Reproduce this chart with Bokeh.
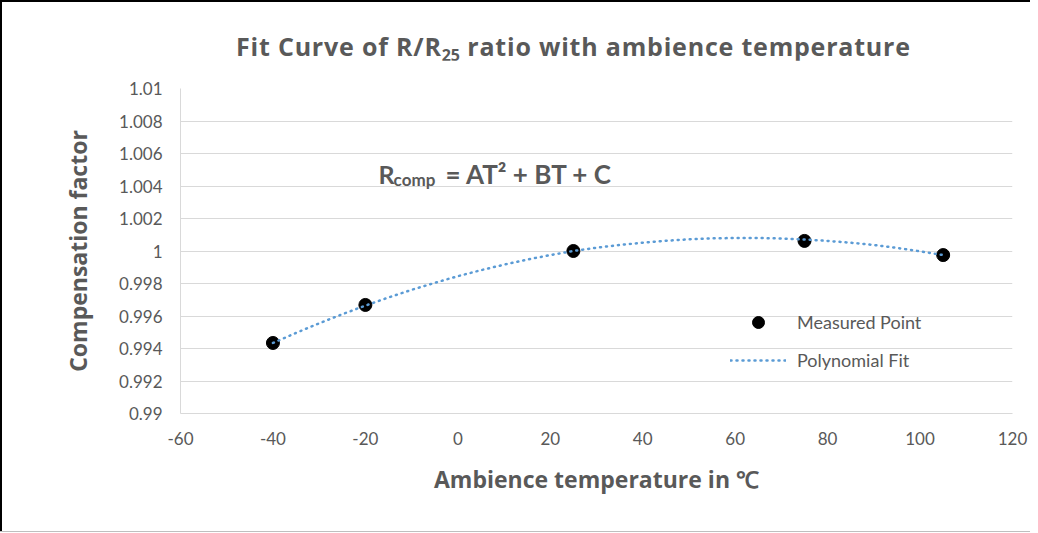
from bokeh.plotting import figure
from bokeh.models import (Label, FixedTicker, Range1d, Legend, LegendItem,
                          CustomJSTickFormatter, Div)
from bokeh.layouts import column
from bokeh.embed import file_html
from bokeh.resources import INLINE

# ---- data ----
temp_measured = [-40, -20, 25, 75, 105]
ratio_measured = [0.99434, 0.99668, 1.00000, 1.00062, 0.99975]

temp_fit = [-40, -35, -30, -25, -20, -15, -10, -5, 0, 5, 10, 15, 20, 25,
            30, 35, 40, 45, 50, 55, 60, 65, 70, 75, 80, 85, 90, 95, 100, 105]
ratio_fit = [0.99434, 0.99496, 0.99555, 0.99611, 0.99664, 0.99714, 0.99761,
             0.99804, 0.99845, 0.99882, 0.99916, 0.99947, 0.99975, 1.00000,
             1.00020, 1.00037, 1.00051, 1.00063, 1.00072, 1.00078, 1.00080,
             1.00080, 1.00077, 1.00071, 1.00062, 1.00051, 1.00037, 1.00019,
             0.99998, 0.99975]

x_ticks = [-60, -40, -20, 0, 20, 40, 60, 80, 100, 120]
y_ticks = [0.99, 0.992, 0.994, 0.996, 0.998, 1.0, 1.002, 1.004, 1.006, 1.008, 1.01]

title_parts = ["Fit Curve of R/R", "25", "ratio with ambience temperature"]
equation_parts = ["R", "comp", "= AT\u00b2 + BT + C"]
legend_labels = ["Measured Point", "Polynomial Fit"]

GRAY = "#595959"
FONT = "Lato"
BOLD_FONT = "Open Sans"

borders_html = (
    '<div style="position:fixed; left:0; top:0; width:1030px; height:2px; background:#000; z-index:10; pointer-events:none;"></div>'
    '<div style="position:fixed; left:0; top:0; width:2px; height:520px; background:#000; z-index:10; pointer-events:none;"></div>'
    '<div style="position:fixed; left:0; top:520px; width:2px; height:11px; background:#000; z-index:10; pointer-events:none;"></div>'
    '<div style="position:fixed; left:0; top:531px; width:1030px; height:1px; background:#bfbfbf; z-index:10; pointer-events:none;"></div>'
)
title_html = borders_html + (
    '<div style="position:relative; left:231px; top:29px; font-family:\'Open Sans\', sans-serif; '
    'font-weight:bold; font-size:25px; line-height:24px; letter-spacing:0.8px; color:%s; white-space:nowrap;">'
    '%s<span style="font-size:16px; position:relative; top:5px; letter-spacing:0px;">%s</span> %s</div>'
    % (GRAY, title_parts[0], title_parts[1], title_parts[2])
)
title_div = Div(text=title_html, width=1030, height=50)

p = figure(width=1030, height=462, x_range=Range1d(-60, 120),
           y_range=Range1d(0.99, 1.01), output_backend="svg",
           toolbar_location=None, title=None,
           min_border_left=180, min_border_right=18,
           min_border_top=28, min_border_bottom=109)
p.outline_line_color = None
p.background_fill_color = "white"
p.border_fill_color = "white"

p.xgrid.grid_line_color = None
p.ygrid.grid_line_color = "#D9D9D9"
p.ygrid.grid_line_width = 1

p.xaxis.ticker = FixedTicker(ticks=x_ticks)
p.yaxis.ticker = FixedTicker(ticks=y_ticks)
p.xaxis.formatter = CustomJSTickFormatter(code="return tick.toString();")
p.yaxis.formatter = CustomJSTickFormatter(code="return Number(tick.toFixed(3)).toString();")

for ax in (p.xaxis[0], p.yaxis[0]):
    ax.axis_line_color = "#D9D9D9"
    ax.major_tick_line_color = None
    ax.minor_tick_line_color = None
    ax.major_label_text_font = FONT
    ax.major_label_text_font_size = "17px"
    ax.major_label_text_color = GRAY
    ax.axis_label_text_font = BOLD_FONT
    ax.axis_label_text_font_style = "bold"
    ax.axis_label_text_font_size = "23px"
    ax.axis_label_text_color = GRAY

p.xaxis.major_label_standoff = 12
p.yaxis.major_label_standoff = 12
p.xaxis.axis_label = "Ambience temperature in \u2103"
p.yaxis.axis_label = "Compensation factor"
p.xaxis.axis_label_standoff = 15
p.yaxis.axis_label_standoff = 22

pts = p.scatter(temp_measured, ratio_measured, size=13, color="black")
fit = p.line(temp_fit, ratio_fit, line_color="#5B9BD5", line_width=2.5,
             line_dash="1 5", line_cap="round")

legend = Legend(items=[LegendItem(label=legend_labels[0], renderers=[pts]),
                       LegendItem(label=legend_labels[1], renderers=[fit])],
                location=(550, 38), orientation="vertical",
                glyph_width=56, glyph_height=30, label_height=30,
                spacing=8, padding=0, margin=0, label_standoff=11,
                border_line_color=None, background_fill_alpha=0,
                label_text_font=FONT, label_text_font_size="18px",
                label_text_color=GRAY)
p.add_layout(legend)

# equation
p.add_layout(Label(x=-17.16, y=1.004769, text=equation_parts[0], text_align="left",
                   text_baseline="alphabetic", text_font=FONT, text_font_style="bold",
                   text_font_size="25px", text_color=GRAY))
p.add_layout(Label(x=-13.9, y=1.0044, text=equation_parts[1], text_align="left",
                   text_baseline="alphabetic", text_font=FONT, text_font_style="bold",
                   text_font_size="17px", text_color=GRAY))
p.add_layout(Label(x=-2.67, y=1.004769, text=equation_parts[2], text_align="left",
                   text_baseline="alphabetic", text_font=FONT, text_font_style="bold",
                   text_font_size="26px", text_color=GRAY))

layout = column(title_div, p, spacing=0)
open("out.html", "w").write(file_html(layout, INLINE))
